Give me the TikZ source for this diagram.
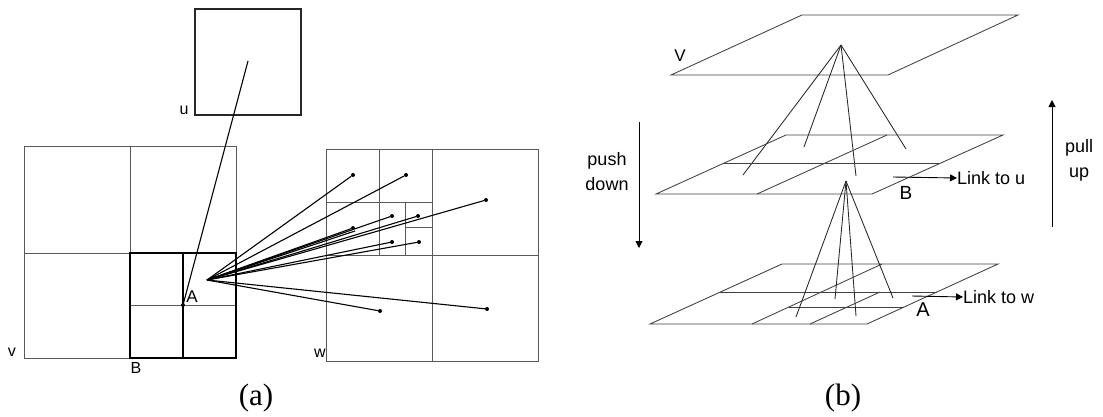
\documentclass[tikz,border=0pt]{standalone}
\usepackage{fontspec}
\setmainfont{Liberation Serif}
\newfontfamily\labfont{Liberation Sans}
\usetikzlibrary{arrows.meta}
\begin{document}
\begin{tikzpicture}[x=1pt,y=-1pt,
  grid/.style={draw=black!65, line width=0.9pt},
  bbox/.style={draw=black, line width=1.5pt},
  ray/.style={draw=black, line width=1.1pt},
  dot/.style={circle, fill=black, inner sep=0pt, minimum size=4pt},
  lab/.style={font=\labfont\fontsize{16}{16}\selectfont, inner sep=0pt},
  biglab/.style={font=\labfont\fontsize{18}{18}\selectfont, inner sep=0pt},
  side/.style={font=\labfont\fontsize{18}{25}\selectfont, inner sep=0pt, align=center},
  capt/.style={font=\fontsize{31}{31}\selectfont, inner sep=0pt, anchor=base},
  plane/.style={draw=black!75, line width=0.85pt},
  cone/.style={draw=black!85, line width=0.85pt},
  tip/.style={-{Triangle[length=7pt,width=7pt]}, line width=0.9pt}
]
\useasboundingbox (0,0) rectangle (1103,416);

% ---------------- panel (a) ----------------
% u box
\draw[line width=1.3pt, draw=black!85] (195,9) rectangle (301,115);
\node[lab] (ulab) at (184,110) {u};
\coordinate (ufoc) at (248,61);

% v square
\draw[grid] (24,146) rectangle (236,358);
\draw[grid] (130,146) -- (130,358);
\draw[grid] (24,253) -- (236,253);
\draw[grid] (130,305) -- (236,305);
\draw[bbox] (130,253) rectangle (236,358);
\draw[ray] (183,253) -- (183,358);
\node[lab] (vlab) at (12,352) {v};
\node[lab] (Blab) at (136,368) {B};

\node[dot] (A) at (183,305) {};
\node[lab,font=\labfont\fontsize{17}{17}\selectfont] (Alab) at (192,297) {A};
\draw[ray] (ufoc) -- (A);

% w square
\draw[grid] (326,149) rectangle (538,361);
\draw[grid] (432,149) -- (432,361);
\draw[grid] (326,255) -- (538,255);
\draw[grid] (379,149) -- (379,255);
\draw[grid] (326,202) -- (432,202);
\draw[grid] (405,202) -- (405,255);
\draw[grid] (405,227) -- (432,227);
\node[lab] (wlab) at (320,353) {w};

% fan
\coordinate (F) at (207,280);
\foreach \n/\p in {1/{353,175},2/{406,175},3/{486,200},4/{392,216},5/{418,216},
                   6/{353,228},7/{392,242},8/{419,242},9/{380,311},10/{487,309}}{
  \node[dot] (w\n) at (\p) {};
  \draw[ray] (F) -- (w\n);
}
\coordinate (w6b) at (355,231);
\draw[ray] (F) -- (w6b);

\node[capt] (capa) at (256,405) {(a)};

% ---------------- panel (b) ----------------
% top plane V
\draw[plane] (671,75) -- (888,75) -- (1018,15) -- (802,15) -- cycle;
\node[lab,font=\labfont\fontsize{17}{17}\selectfont] (Vlab) at (680,56) {V};
\coordinate (va) at (841,45);
\foreach \p in {{743,175},{804,147},{856,176},{906,149}}
  \draw[cone] (va) -- (\p);

% middle plane
\draw[plane] (656,194) -- (872,194) -- (1003,135) -- (786,135) -- cycle;
\draw[plane] (724,163) -- (940,163);
\draw[plane] (757,194) -- (887,135);
\coordinate (ba) at (846,181);

% bottom plane
\draw[plane] (650,324) -- (867,324) -- (998,264) -- (782,264) -- cycle;
\draw[plane] (720,292) -- (937,292);
\draw[plane] (752,324) -- (882,264);
\draw[plane] (789,307) -- (904,307);
\draw[plane] (810,324) -- (880,292);
\foreach \p in {{796,317},{835,299},{856,316},{893,298}}
  \draw[cone] (ba) -- (\p);

% labels and links
\node[biglab,font=\labfont\fontsize{19}{19}\selectfont] (Bb) at (906,193) {B};
\coordinate (lu0) at (893,177);
\node[biglab,anchor=west,font=\labfont\fontsize{18}{18}\selectfont] (linku) at (957,178) {Link to u};
\draw[tip] (lu0) -- (linku.west);

\node[biglab,font=\labfont\fontsize{20}{20}\selectfont] (Ab) at (923,310) {A};
\coordinate (lw0) at (912,296);
\node[biglab,anchor=west,font=\labfont\fontsize{18}{18}\selectfont] (linkw) at (963,297) {Link to w};
\draw[tip] (lw0) -- (linkw.west);

% push down / pull up
\coordinate (pd0) at (639,122);
\coordinate (pd1) at (639,248);
\draw[tip] (pd0) -- (pd1);
\node[side] (push) at (607,172) {push\\down};

\coordinate (pu0) at (1052,227);
\coordinate (pu1) at (1052,100);
\draw[tip] (pu0) -- (pu1);
\node[side] (pull) at (1079,160) {pull\\up};

\node[capt] (capb) at (843,405) {(b)};
\end{tikzpicture}
\end{document}
